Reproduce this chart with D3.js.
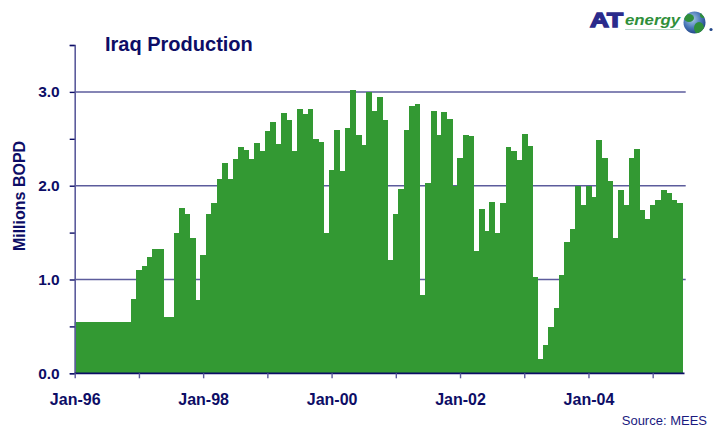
<!DOCTYPE html>
<html>
<head>
<meta charset="utf-8">
<script src="https://cdn.jsdelivr.net/npm/d3@7/dist/d3.min.js"></script>
<style>
  html, body { margin: 0; padding: 0; background: #fff; }
  svg { display: block; }
</style>
</head>
<body>
<div id="chart"></div>
<script>
// ── Iraq crude production, monthly, millions of barrels per day ──
const prod1996 = [0.546, 0.546, 0.546, 0.546, 0.546, 0.546, 0.546, 0.546, 0.546, 0.546, 0.546, 0.791];
const prod1997 = [1.10, 1.143, 1.24, 1.324, 1.324, 0.60, 0.60, 1.494, 1.76, 1.70, 1.44, 0.78];
const prod1998 = [1.26, 1.70, 1.814, 2.07, 2.24, 2.07, 2.28, 2.41, 2.38, 2.28, 2.45, 2.37];
const prod1999 = [2.58, 2.677, 2.44, 2.77, 2.70, 2.37, 2.82, 2.76, 2.82, 2.50, 2.47, 1.494];
const prod2000 = [2.165, 2.59, 2.155, 2.62, 3.02, 2.54, 2.43, 2.995, 2.80, 2.95, 2.70, 1.207];
const prod2001 = [1.70, 1.96, 2.59, 2.85, 2.87, 0.835, 2.027, 2.80, 2.54, 2.79, 2.71, 1.995];
const prod2002 = [2.30, 2.54, 2.53, 1.30, 1.75, 1.515, 1.824, 1.494, 1.814, 2.41, 2.37, 2.27];
const prod2003 = [2.55, 2.42, 1.026, 0.152, 0.301, 0.493, 0.695, 1.047, 1.398, 1.536, 1.995, 1.79];
const prod2004 = [1.995, 1.878, 2.485, 2.30, 2.05, 1.44, 1.95, 1.79, 2.29, 2.39, 1.74, 1.644];
const prod2005 = [1.79, 1.843, 1.95, 1.92, 1.843, 1.814];

const production = [].concat(prod1996, prod1997, prod1998, prod1999, prod2000,
                             prod2001, prod2002, prod2003, prod2004, prod2005);

const yTicks  = [0, 0.5, 1, 1.5, 2, 2.5, 3, 3.5];
const yGrid   = [1, 2, 3];
const xLabels = ['Jan-96', 'Jan-98', 'Jan-00', 'Jan-02', 'Jan-04'];

// ── Chart ───────────────────────────────────────────────────────
const W = 723, H = 427;
const navy  = '#0d0d66';
const green = '#339933';
const font  = "'Liberation Sans', Arial, sans-serif";

const svg = d3.select('#chart').append('svg')
  .attr('width', W).attr('height', H);

const nMonths = production.length;
const x = d3.scaleLinear().domain([0, 114]).range([74.7, 684.8]);
const y = d3.scaleLinear().domain([0, 3.5]).range([373.3, 45]);

// grid
svg.append('g').selectAll('line')
  .data(yGrid).enter().append('line')
  .attr('x1', x(0)).attr('x2', 685.7)
  .attr('y1', d => y(d)).attr('y2', d => y(d))
  .attr('stroke', '#5c5c9c').attr('stroke-width', 1.5);

// clip so the first half-bar sits behind the axis
svg.append('clipPath').attr('id', 'plot')
  .append('rect').attr('x', x(0)).attr('y', 0).attr('width', W).attr('height', y(0));

svg.append('g').attr('clip-path', 'url(#plot)')
  .attr('shape-rendering', 'crispEdges')
  .selectAll('rect').data(production).enter().append('rect')
  .attr('x', (d, i) => x(i - 0.5))
  .attr('width', x(1) - x(0) + 0.6)
  .attr('y', d => y(d))
  .attr('height', d => y(0) - y(d))
  .attr('fill', green);

// y axis
const yAxis = svg.append('g').attr('transform', `translate(${x(0)},0)`)
  .call(d3.axisLeft(y).tickValues(yTicks).tickSize(5).tickPadding(10)
    .tickFormat(d => Number.isInteger(d) ? d.toFixed(1) : ''));
yAxis.select('.domain').attr('stroke', '#5c5c9c').attr('stroke-width', 1.6);
yAxis.selectAll('line').attr('stroke', navy).attr('stroke-width', 1.4);
yAxis.selectAll('text')
  .attr('fill', navy).attr('font-family', font)
  .attr('font-size', '15.5px').attr('font-weight', 'bold');

// x axis
const yearTicks = d3.range(0, nMonths, 12);
const xAxis = svg.append('g').attr('transform', `translate(0,${y(0)})`)
  .call(d3.axisBottom(x).tickValues(yearTicks).tickSize(5).tickPadding(15)
    .tickFormat(i => i % 24 === 0 ? xLabels[i / 24] : ''));
xAxis.select('.domain').attr('stroke', navy).attr('stroke-width', 1.8)
  .attr('d', `M${x(0)},0H684.5`);
xAxis.selectAll('line').attr('stroke', '#5c5c9c').attr('stroke-width', 1.4);
xAxis.selectAll('text')
  .attr('fill', navy).attr('font-family', font)
  .attr('font-size', '16px').attr('font-weight', 'bold');

// titles
svg.append('text')
  .attr('x', 105).attr('y', 51)
  .attr('fill', navy).attr('font-family', font)
  .attr('font-size', '20px').attr('font-weight', 'bold')
  .text('Iraq Production');

svg.append('text')
  .attr('transform', 'translate(25,196) rotate(-90)')
  .attr('text-anchor', 'middle')
  .attr('fill', navy).attr('font-family', font)
  .attr('font-size', '16px').attr('font-weight', 'bold')
  .text('Millions BOPD');

svg.append('text')
  .attr('x', 707).attr('y', 425)
  .attr('text-anchor', 'end')
  .attr('fill', '#1a1a80').attr('font-family', font)
  .attr('font-size', '13px')
  .text('Source: MEES');

// logo
const logo = svg.append('g');
logo.append('text')
  .attr('x', 590).attr('y', 27)
  .attr('fill', '#2b2b8c').attr('stroke', '#2b2b8c').attr('stroke-width', 1.4)
  .attr('font-family', font)
  .attr('font-size', '20px').attr('font-weight', 'bold')
  .attr('textLength', 33).attr('lengthAdjust', 'spacingAndGlyphs')
  .text('AT');
logo.append('text')
  .attr('x', 625).attr('y', 25)
  .attr('fill', '#2f8f3a').attr('font-family', font)
  .attr('font-size', '15px').attr('font-weight', 'bold').attr('font-style', 'italic')
  .attr('textLength', 55).attr('lengthAdjust', 'spacingAndGlyphs')
  .text('energy');
logo.append('line')
  .attr('x1', 625).attr('x2', 680).attr('y1', 29.5).attr('y2', 29.5)
  .attr('stroke', '#b8d8c8').attr('stroke-width', 1);

const grad = svg.append('defs').append('radialGradient')
  .attr('id', 'globe').attr('cx', '40%').attr('cy', '35%').attr('r', '65%');
grad.append('stop').attr('offset', '0%').attr('stop-color', '#a8cbe8');
grad.append('stop').attr('offset', '60%').attr('stop-color', '#4a78b8');
grad.append('stop').attr('offset', '100%').attr('stop-color', '#24488a');

logo.append('clipPath').attr('id', 'globeClip')
  .append('circle').attr('cx', 694.5).attr('cy', 22.5).attr('r', 11);
logo.append('circle').attr('cx', 694.5).attr('cy', 22.5).attr('r', 11).attr('fill', 'url(#globe)');
const land = logo.append('g').attr('clip-path', 'url(#globeClip)').attr('fill', '#2f8f3a');
land.append('ellipse').attr('cx', 689).attr('cy', 18).attr('rx', 5).attr('ry', 4);
land.append('ellipse').attr('cx', 699).attr('cy', 28).attr('rx', 5).attr('ry', 6);
land.append('ellipse').attr('cx', 703).attr('cy', 15).attr('rx', 3).attr('ry', 3);
logo.append('circle').attr('cx', 711).attr('cy', 29.5).attr('r', 1.6).attr('fill', '#24488a');
</script>
</body>
</html>
